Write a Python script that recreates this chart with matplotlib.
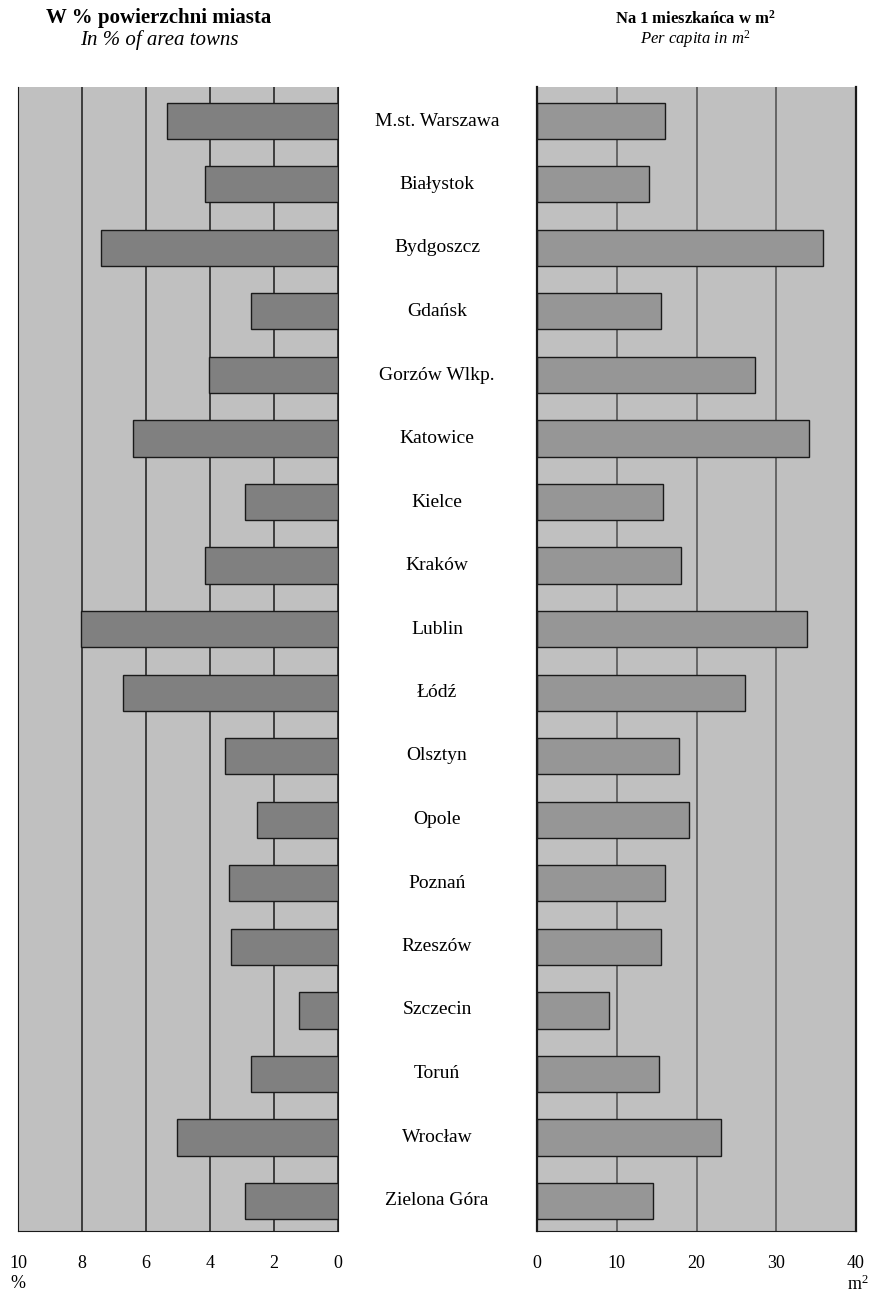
import matplotlib
matplotlib.use("Agg")
import matplotlib.pyplot as plt

cities = ["M.st. Warszawa", "Białystok", "Bydgoszcz", "Gdańsk", "Gorzów Wlkp.",
          "Katowice", "Kielce", "Kraków", "Lublin", "Łódź", "Olsztyn", "Opole",
          "Poznań", "Rzeszów", "Szczecin", "Toruń", "Wrocław", "Zielona Góra"]
pct_area = [5.34, 4.16, 7.4, 2.72, 4.03, 6.4, 2.9, 4.16, 8.03, 6.72, 3.53, 2.53,
            3.4, 3.34, 1.22, 2.72, 5.03, 2.9]
per_capita = [16.0, 14.0, 35.8, 15.5, 27.3, 34.1, 15.8, 18.0, 33.8, 26.1, 17.8, 19.0,
              16.0, 15.5, 9.0, 15.3, 23.1, 14.5]
left_ticks = [0, 2, 4, 6, 8, 10]
right_ticks = [0, 10, 20, 30, 40]

plt.rcParams["font.family"] = ["Liberation Serif", "DejaVu Serif"]
plt.rcParams["mathtext.fontset"] = "custom"
plt.rcParams["mathtext.rm"] = "Liberation Serif"
plt.rcParams["mathtext.it"] = "Liberation Serif:italic"
plt.rcParams["mathtext.bf"] = "Liberation Serif:bold"

W, H = 872, 1295
fig = plt.figure(figsize=(W / 100, H / 100), dpi=100)


def box(x0, x1, y0, y1):
    return [x0 / W, 1 - y1 / H, (x1 - x0) / W, (y1 - y0) / H]


def at(x, y):
    return x / W, 1 - y / H


ys = list(range(len(cities)))
ax_l = fig.add_axes(box(18, 338, 87, 1231))
ax_r = fig.add_axes(box(537, 856, 87, 1231))

for ax, vals, ticks, lim, col, gcol in [
        (ax_l, pct_area, left_ticks, (10, 0), "#808080", "#1a1a1a"),
        (ax_r, per_capita, right_ticks, (0, 40), "#969696", "#4d4d4d")]:
    ax.set_facecolor("#c0c0c0")
    for t in ticks:
        ax.axvline(t, color=gcol, lw=1.1, zorder=1)
    ax.barh(ys, vals, height=0.57, color=col, edgecolor="#1a1a1a", lw=1.0, zorder=2)
    ax.set_xlim(*lim)
    ax.set_ylim(17.47, -0.53)
    ax.set_yticks([])
    ax.set_xticks(ticks)
    ax.tick_params(axis="x", length=0, pad=17, labelsize=13)
    ax.spines["top"].set_visible(False)
    for s in ["left", "right", "bottom"]:
        ax.spines[s].set_color("#1a1a1a")

ax_r.spines["left"].set_linewidth(1.6)
ax_r.spines["right"].set_linewidth(1.6)

for i, c in enumerate(cities):
    fig.text(*at(437, 121 + i * 63.5), c, ha="center", va="center", fontsize=14)

fig.text(*at(159, 18), "W % powierzchni miasta", ha="center", va="center",
         fontsize=15, fontweight="bold")
fig.text(*at(159, 40), "In % of area towns", ha="center", va="center",
         fontsize=15, style="italic")
fig.text(*at(695, 19), "Na 1 mieszkańca w m$^\\mathbf{2}$", ha="center", va="center",
         fontsize=12, fontweight="bold")
fig.text(*at(695, 39), "Per capita in m$^\\mathit{2}$", ha="center", va="center",
         fontsize=12, style="italic")
fig.text(*at(18, 1284), "%", ha="center", va="center", fontsize=13)
fig.text(*at(858, 1284), "m$^2$", ha="center", va="center", fontsize=13)

fig.savefig("out.png", dpi=100)
